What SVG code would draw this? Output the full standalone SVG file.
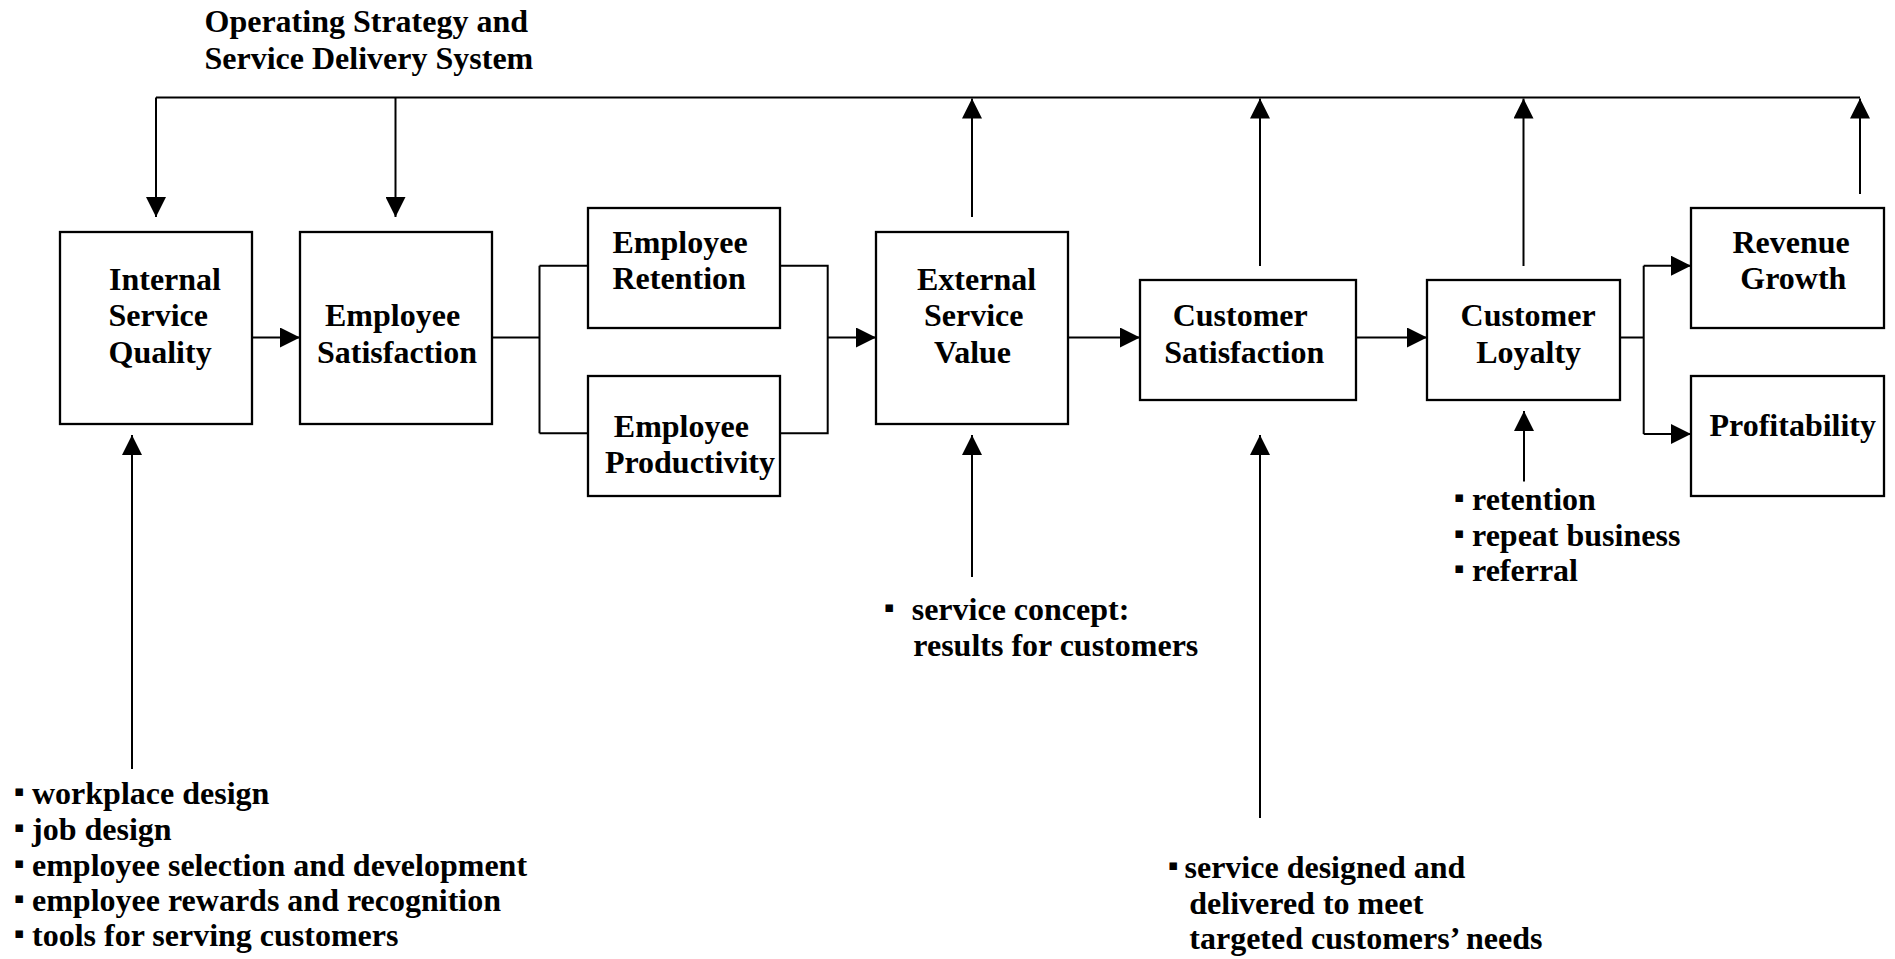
<svg xmlns="http://www.w3.org/2000/svg" width="1895" height="959" viewBox="0 0 1895 959">
<style>
.box{fill:#fff;stroke:#000;stroke-width:2.3}
.ln{fill:none;stroke:#000;stroke-width:2}
.arr{fill:none;stroke:#000;stroke-width:2;marker-end:url(#ah)}
text{font-family:"Liberation Serif","Times New Roman",serif;font-weight:bold;font-size:32px;fill:#000}
.b{font-family:"DejaVu Sans",sans-serif;font-size:15px}
</style>
<defs>
<marker id="ah" markerUnits="userSpaceOnUse" markerWidth="20" markerHeight="20" refX="20" refY="10" orient="auto" viewBox="0 0 20 20"><path d="M0,0 L20,10 L0,20 z" fill="#000"/></marker>
</defs>
<rect width="1895" height="959" fill="#fff"/>
<g id="connectors">
<path class="ln" d="M156,97.5 H1860"/>
<path class="arr" d="M156,97.5 V217"/>
<path class="arr" d="M395.5,97.5 V217"/>
<path class="arr" d="M972,217 V98.5"/>
<path class="arr" d="M1260,266 V98.5"/>
<path class="arr" d="M1523.5,266 V98.5"/>
<path class="arr" d="M1860,194 V98.5"/>
<path class="arr" d="M252,337.5 H300"/>
<path class="ln" d="M492,337.5 H539.5 M539.5,265.7 V433.3 M539.5,265.7 H588 M539.5,433.3 H588"/>
<path class="ln" d="M780,265.7 H827.7 V433.3 H780"/>
<path class="arr" d="M827.7,337.5 H876"/>
<path class="arr" d="M1068,337.5 H1140"/>
<path class="arr" d="M1356,337.5 H1427"/>
<path class="ln" d="M1620,337.5 H1643.7 M1643.7,265.7 V434"/>
<path class="arr" d="M1643.7,265.7 H1691"/>
<path class="arr" d="M1643.7,434 H1691"/>
<path class="arr" d="M132,769 V435"/>
<path class="arr" d="M972,577 V435"/>
<path class="arr" d="M1260,818 V435"/>
<path class="arr" d="M1524,481.5 V411"/>
</g>
<g id="title">
<text x="204.5" y="32.3">Operating Strategy and</text>
<text x="204.5" y="69">Service Delivery System</text>
</g>
<g id="isq">
<rect class="box" x="60" y="232" width="192" height="192"/>
<text x="109" y="290">Internal</text>
<text x="108.5" y="326.3">Service</text>
<text x="108.5" y="362.6">Quality</text>
</g>
<g id="es">
<rect class="box" x="300" y="232" width="192" height="192"/>
<text x="325" y="326">Employee</text>
<text x="317" y="362.5">Satisfaction</text>
</g>
<g id="er">
<rect class="box" x="588" y="208" width="192" height="120"/>
<text x="612.5" y="252.7">Employee</text>
<text x="612.5" y="289.3">Retention</text>
</g>
<g id="ep">
<rect class="box" x="588" y="376" width="192" height="120"/>
<text x="613.8" y="436.7">Employee</text>
<text x="604.9" y="473.3">Productivity</text>
</g>
<g id="esv">
<rect class="box" x="876" y="232" width="192" height="192"/>
<text x="917" y="290">External</text>
<text x="924" y="326.3">Service</text>
<text x="934" y="362.6">Value</text>
</g>
<g id="cs">
<rect class="box" x="1140" y="280" width="216" height="120"/>
<text x="1172.7" y="326">Customer</text>
<text x="1164.3" y="362.5">Satisfaction</text>
</g>
<g id="cl">
<rect class="box" x="1427" y="280" width="193" height="120"/>
<text x="1460.6" y="326">Customer</text>
<text x="1476.2" y="362.5">Loyalty</text>
</g>
<g id="rg">
<rect class="box" x="1691" y="208" width="193" height="120"/>
<text x="1732.5" y="252.9">Revenue</text>
<text x="1740.3" y="289.3">Growth</text>
</g>
<g id="prof">
<rect class="box" x="1691" y="376" width="193" height="120"/>
<text x="1709.5" y="435.7">Profitability</text>
</g>
<g id="isq-notes">
<text y="804.3"><tspan class="b" x="14" dy="-8">▪</tspan><tspan x="32" dy="8">workplace design</tspan></text>
<text y="840"><tspan class="b" x="14" dy="-8">▪</tspan><tspan x="32" dy="8">job design</tspan></text>
<text y="875.7"><tspan class="b" x="14" dy="-8">▪</tspan><tspan x="32" dy="8">employee selection and development</tspan></text>
<text y="910.7"><tspan class="b" x="14" dy="-8">▪</tspan><tspan x="32" dy="8">employee rewards and recognition</tspan></text>
<text y="946"><tspan class="b" x="14" dy="-8">▪</tspan><tspan x="32" dy="8">tools for serving customers</tspan></text>
</g>
<g id="esv-notes">
<text y="620"><tspan class="b" x="884" dy="-8">▪</tspan><tspan x="911.7" dy="8">service concept:</tspan></text>
<text x="913.3" y="656">results for customers</text>
</g>
<g id="cs-notes">
<text y="877.7"><tspan class="b" x="1168" dy="-8">▪</tspan><tspan x="1184.5" dy="8">service designed and</tspan></text>
<text x="1189.3" y="914">delivered to meet</text>
<text x="1189.3" y="949.3">targeted customers’ needs</text>
</g>
<g id="cl-notes">
<text y="509.5"><tspan class="b" x="1454" dy="-8">▪</tspan><tspan x="1472" dy="8">retention</tspan></text>
<text y="545.5"><tspan class="b" x="1454" dy="-8">▪</tspan><tspan x="1472" dy="8">repeat business</tspan></text>
<text y="581"><tspan class="b" x="1454" dy="-8">▪</tspan><tspan x="1472" dy="8">referral</tspan></text>
</g>
</svg>
